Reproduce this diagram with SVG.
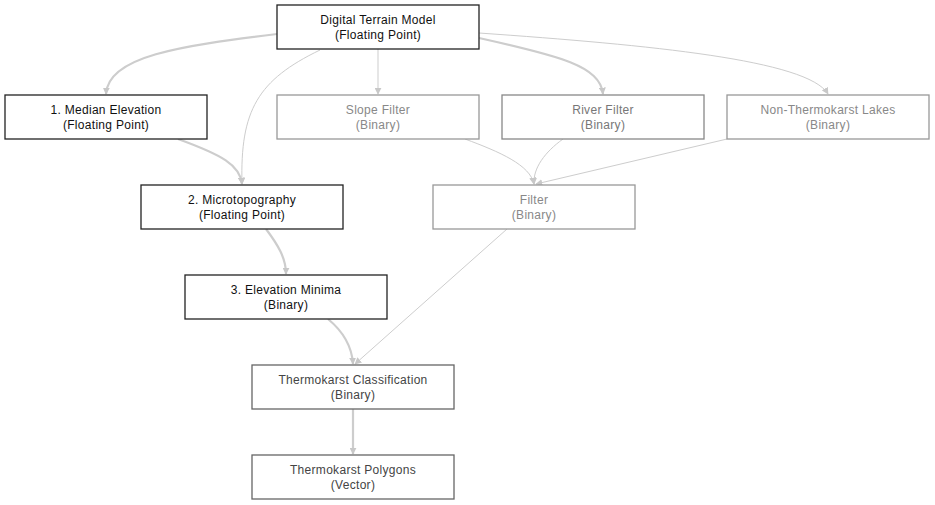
<svg xmlns="http://www.w3.org/2000/svg" width="935" height="505" viewBox="0 0 935 505">
<defs>
<marker id="ah" viewBox="0 0 10 10" refX="9" refY="5" markerWidth="7" markerHeight="7" markerUnits="userSpaceOnUse" orient="auto">
<path d="M0,0 L10,5 L0,10 z" fill="#c8c8c8"/>
</marker>
<style>
.n rect{fill:#fff;stroke-width:1.3}
.n text{font-family:"Liberation Sans",Arial,sans-serif;font-size:12px;letter-spacing:0.3px;text-anchor:middle}
.b rect{stroke:#222}.b text{fill:#111}
.g rect{stroke:#999}.g text{fill:#888}
.r rect{stroke:#888}.r text{fill:#777}
.d rect{stroke:#666}.d text{fill:#444}
#edges path{fill:none;stroke:#cdcdcd;marker-end:url(#ah)}
.thick{stroke-width:2.2}
.thin{stroke-width:1}
</style>
</defs>
<rect width="935" height="505" fill="#fff"/>
<g id="edges">
<path class="thick" d="M277,34 C180,46 108,56 106,94"/>
<path class="thin" d="M320,50 C258,80 240,110 242,184"/>
<path class="thin" d="M378,49 L378,94"/>
<path class="thick" d="M479,38 C560,56 600,66 603,94"/>
<path class="thin" d="M479,33 C650,45 808,60 828,94"/>
<path class="thick" d="M178,139 C222,155 240,165 242,184"/>
<path class="thin" d="M465,139 C500,152 530,165 534,184"/>
<path class="thin" d="M563,139 C545,152 533,168 534,184"/>
<path class="thin" d="M727,139 L536,184"/>
<path class="thick" d="M266,229 C278,245 286,258 286,274"/>
<path class="thick" d="M328,319 C345,333 352,348 353,364"/>
<path class="thin" d="M507,229 L355,364"/>
<path class="thick" d="M353,409 L353,454"/>
</g>
<g id="dtm" class="n b"><rect x="277" y="5" width="202" height="44"/><text x="378" y="24">Digital Terrain Model</text><text x="378" y="39">(Floating Point)</text></g>
<g id="median" class="n b"><rect x="5" y="95" width="202" height="44"/><text x="106" y="114">1. Median Elevation</text><text x="106" y="129">(Floating Point)</text></g>
<g id="slope" class="n g"><rect x="277" y="95" width="202" height="44"/><text x="378" y="114">Slope Filter</text><text x="378" y="129">(Binary)</text></g>
<g id="river" class="n r"><rect x="502" y="95" width="202" height="44"/><text x="603" y="114">River Filter</text><text x="603" y="129">(Binary)</text></g>
<g id="lakes" class="n g"><rect x="727" y="95" width="202" height="44"/><text x="828" y="114">Non-Thermokarst Lakes</text><text x="828" y="129">(Binary)</text></g>
<g id="micro" class="n b"><rect x="141" y="185" width="202" height="44"/><text x="242" y="204">2. Microtopography</text><text x="242" y="219">(Floating Point)</text></g>
<g id="filter" class="n g"><rect x="433" y="185" width="202" height="44"/><text x="534" y="204">Filter</text><text x="534" y="219">(Binary)</text></g>
<g id="minima" class="n b"><rect x="185" y="275" width="202" height="44"/><text x="286" y="294">3. Elevation Minima</text><text x="286" y="309">(Binary)</text></g>
<g id="classif" class="n d"><rect x="252" y="365" width="202" height="44"/><text x="353" y="384">Thermokarst Classification</text><text x="353" y="399">(Binary)</text></g>
<g id="polygons" class="n d"><rect x="252" y="455" width="202" height="44"/><text x="353" y="474">Thermokarst Polygons</text><text x="353" y="489">(Vector)</text></g>
</svg>
